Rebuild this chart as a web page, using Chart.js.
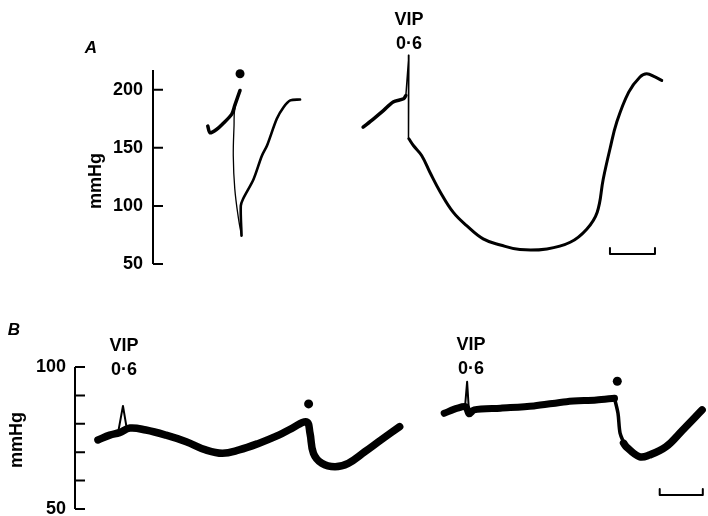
<!DOCTYPE html>
<html>
<head>
<meta charset="utf-8">
<script src="https://cdn.jsdelivr.net/npm/chart.js@4.4.1/dist/chart.umd.min.js"></script>
<style>
  body { margin: 0; background: #fff; width: 708px; height: 516px; overflow: hidden; position: relative; }
  canvas { position: absolute; left: 0; }
  #chartA { top: 0; }
  #chartB { top: 290px; }
</style>
</head>
<body>
<canvas id="chartA" width="708" height="290"></canvas>
<canvas id="chartB" width="708" height="226"></canvas>
<script>
// les donnees: temps en s, pression en mmHg
// panneau A
let tickA = [50, 100, 150, 200];
let a1Pre = [[73,168.7],[76,163],[85,166],[93,170.7],[105,179],[109,186.5],[116,199.4]];
let a1Drop = [[116,199.4],[109,183.6],[108,169],[107,143],[109,114.7],[114,88.8],[118,74.4]];
let a1Back = [[118,74.4],[117,100],[120,106],[134,123],[145,143],[152,152],[165,175],[174,185],[183,190.8],[196,191.6]];
let a2Pre = [[280,167.8],[294,175],[307,182],[320,189.4],[334,192.2],[337,195]];
let a2Spike = [[337,195],[341,229.6],[340,186.5],[341,157.8]];
let a2Curve = [[341,157.8],[347,152],[358,143.4],[369,129],[383,111.8],[400,94.6],[418,83],[440,71.6],[463,66.4],[489,62.4],[525,63],[556,68.7],[578,80],[592,94.6],[600,123],[609,149],[618,172],[634,198],[649,211],[658,213.8],[669,211],[678,208]];
let dotA = [[116,213.8]];
let barA = [[609,63.8],[609,58.6],[669,58.6],[669,63.8]];

// panneau B
let tickB = [50, 60, 70, 80, 90, 100];
let labelB = [50, 100];
let b1Band = [[33,74.3],[50,76],[64,76.9],[79,78.5],[102,77.8],[131,76],[160,73.7],[188,70.8],[212,69.6],[236,70.8],[264,73.1],[293,76],[312,78.4],[333,80.7],[338,76.7],[343,69.6],[355,66.1],[374,64.9],[393,66.1],[417,70.2],[440,74.3],[467,79]];
let b1Spike = [[62,76.9],[69,86.3],[75,77.5]];
let b2Band = [[531,83.7],[550,85.5],[562,86],[567,83.5],[574,84.9],[612,85.5],[660,86.3],[707,87.8],[750,88.4],[776,89]];
let b2Spike = [[561,86],[564,94.8],[567,83]];
let b2Drop = [[776,89],[781,83.7],[784,76.7],[790,73]];
let b2Back = [[789,73.2],[793,71.9],[812,68.4],[826,69],[850,71.9],[874,77.8],[902,84.9]];
let dotB = [[336,87],[780,95]];
let barB = [[841,57],[841,54.9],[903,54.9],[903,57]];

let FONT = '"Liberation Sans", Arial, sans-serif';

function pts(arr) {
    return arr.map(p => ({x: p[0], y: p[1]}));
}
function trace(arr, w, t) {
    return {data: pts(arr), showLine: true, borderColor: '#000', borderWidth: w,
        pointRadius: 0, tension: t || 0, clip: false, borderJoinStyle: 'round', borderCapStyle: 'round'};
}
function dots(arr) {
    return {data: pts(arr), showLine: false, pointRadius: 4.5, pointBackgroundColor: '#000',
        pointBorderWidth: 0, clip: false};
}

// axe vertical avec graduations vers l'interieur + textes
let axisPlugin = {
    id: 'traceAxis',
    afterDraw(chart, args, opts) {
        let ctx = chart.ctx;
        let y = chart.scales.y;
        let left = chart.chartArea.left;
        ctx.save();
        ctx.strokeStyle = '#000';
        ctx.lineWidth = 2;
        ctx.beginPath();
        ctx.moveTo(left, y.getPixelForValue(y.max));
        ctx.lineTo(left, y.getPixelForValue(y.min));
        opts.ticks.forEach(v => {
            let py = y.getPixelForValue(v);
            ctx.moveTo(left, py);
            ctx.lineTo(left + 10, py);
        });
        ctx.stroke();
        ctx.fillStyle = '#000';
        ctx.font = 'bold 18px ' + FONT;
        ctx.textAlign = 'right';
        ctx.textBaseline = 'middle';
        opts.labels.forEach(v => {
            ctx.fillText(String(v), left + opts.labelDx, y.getPixelForValue(v));
        });
        // mmHg
        ctx.save();
        ctx.translate(opts.unit[0], opts.unit[1]);
        ctx.rotate(-Math.PI / 2);
        ctx.textAlign = 'center';
        ctx.fillText('mmHg', 0, 0);
        ctx.restore();
        // lettre du panneau
        ctx.font = 'italic bold 17px ' + FONT;
        ctx.textAlign = 'center';
        ctx.fillText(opts.letter[0], opts.letter[1], opts.letter[2]);
        // VIP 0·6
        ctx.font = 'bold 18px ' + FONT;
        opts.vip.forEach(p => {
            ctx.fillText('VIP', p[0], p[1]);
            ctx.fillText('0·6', p[0], p[1] + 24);
        });
        ctx.restore();
    }
};

function makeChart(id, datasets, xMax, yMin, yMax, padding, plugOpts) {
    return new Chart(document.getElementById(id), {
        type: 'scatter',
        data: {datasets: datasets},
        options: {
            responsive: false,
            animation: false,
            devicePixelRatio: 1,
            layout: {padding: padding},
            scales: {
                x: {type: 'linear', min: 0, max: xMax, display: false},
                y: {type: 'linear', min: yMin, max: yMax, display: false}
            },
            plugins: {
                legend: {display: false},
                tooltip: {enabled: false},
                traceAxis: plugOpts
            }
        },
        plugins: [axisPlugin]
    });
}

// panneau A
let chartA = makeChart('chartA', [
    trace(a1Pre, 3.5, 0.3), trace(a1Drop, 1.3, 0.4), trace(a1Back, 2.6, 0.3),
    trace(a2Pre, 3.5, 0.3), trace(a2Spike, 1.5), trace(a2Curve, 3, 0.4),
    trace(barA, 2), dots(dotA)
], 729, 50, 217, {left: 153, right: 8, top: 70, bottom: 26}, {
    ticks: tickA, labels: tickA, labelDx: -10, unit: [96, 181],
    letter: ['A', 91, 48], vip: [[409, 20]]
});

// panneau B
let chartB = makeChart('chartB', [
    trace(b1Band, 7.5, 0.4), trace(b1Spike, 2),
    trace(b2Band, 7, 0.3), trace(b2Spike, 2), trace(b2Drop, 3.5, 0.3), trace(b2Back, 7.5, 0.4),
    trace(barB, 2), dots(dotB)
], 904, 50, 100, {left: 75, right: 0, top: 77, bottom: 7}, {
    ticks: tickB, labels: labelB, labelDx: -9, unit: [17, 150],
    letter: ['B', 14, 40], vip: [[124, 56], [471, 55]]
});
</script>
</body>
</html>
